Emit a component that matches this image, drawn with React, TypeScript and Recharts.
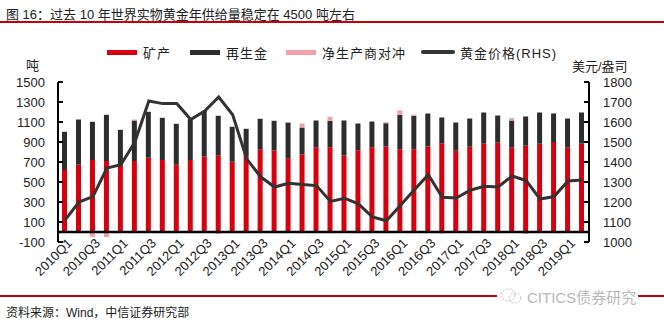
import {
    ComposedChart,
    Bar,
    Line,
    XAxis,
    YAxis,
    ReferenceLine
} from 'recharts'

const quarters = [
    '2010Q1', '2010Q2', '2010Q3', '2010Q4',
    '2011Q1', '2011Q2', '2011Q3', '2011Q4',
    '2012Q1', '2012Q2', '2012Q3', '2012Q4',
    '2013Q1', '2013Q2', '2013Q3', '2013Q4',
    '2014Q1', '2014Q2', '2014Q3', '2014Q4',
    '2015Q1', '2015Q2', '2015Q3', '2015Q4',
    '2016Q1', '2016Q2', '2016Q3', '2016Q4',
    '2017Q1', '2017Q2', '2017Q3', '2017Q4',
    '2018Q1', '2018Q2', '2018Q3', '2018Q4',
    '2019Q1', '2019Q2'
]

// 矿产 (吨)
const mine = [
    620, 673, 720, 710, 663, 710, 743, 720, 673, 720, 757, 763,
    703, 753, 828, 816, 738, 776, 848, 848, 765, 818, 848, 856,
    828, 828, 856, 888, 813, 853, 883, 893, 843, 863, 883, 900,
    843, 883
]

// 再生金 (吨)
const recycled = [
    382, 452, 382, 462, 359, 405, 459, 422, 409, 408, 455, 399,
    349, 279, 304, 296, 357, 269, 267, 264, 350, 267, 257, 232,
    344, 334, 329, 257, 282, 282, 312, 272, 272, 292, 312, 285,
    292, 312
]

// 净生产商对冲 (吨)
const hedging = [
    0, 0, -50, -50, 0, 10, 0, 0, 0, 0, 0, -20,
    0, 0, 0, 0, 5, 40, 0, 40, 0, 0, 0, 10,
    45, 12, 0, -15, 0, 0, 0, 0, 25, -20, 0, 0,
    0, 0
]

// 黄金价格 (美元/盎司, RHS)
const goldPrice = [
    1109, 1200, 1227, 1370, 1386, 1500, 1705, 1692, 1693, 1612, 1655, 1725,
    1636, 1416, 1326, 1275, 1294, 1288, 1282, 1203, 1219, 1191, 1125, 1106,
    1183, 1261, 1336, 1224, 1220, 1259, 1279, 1275, 1330, 1307, 1215, 1227,
    1305, 1310
]

const leftTicks = [-100, 100, 300, 500, 700, 900, 1100, 1300, 1500]
const rightTicks = [1000, 1100, 1200, 1300, 1400, 1500, 1600, 1700, 1800]

const RED = '#d7000f'
const DARK = '#2d2d2d'
const PINK = '#f0a1ab'
const LINE = '#333333'
const FONT = 'Arial, "Liberation Sans", "Noto Sans CJK SC", sans-serif'

const data = quarters.map((q, i) => ({
    q,
    mine: mine[i],
    recycled: recycled[i],
    hedging: hedging[i],
    gold: goldPrice[i]
}))

function LeftTick({ x, y, payload }: any) {
    return (
        <g>
            <line x1={x} x2={x + 5} y1={y} y2={y} stroke="#000" strokeWidth={2} />
            <text x={x - 13} y={y} dy={5} textAnchor="end" fontSize={13} fill="#222" fontFamily={FONT}>
                {payload.value}
            </text>
        </g>
    )
}

function RightTick({ x, y, payload }: any) {
    return (
        <g>
            <line x1={x - 5} x2={x} y1={y} y2={y} stroke="#000" strokeWidth={2} />
            <text x={x + 14} y={y} dy={5} textAnchor="start" fontSize={13} fill="#222" fontFamily={FONT}>
                {payload.value}
            </text>
        </g>
    )
}

function QuarterTick({ x, y, payload }: any) {
    const ax = x + 8
    const ay = y + 2
    return (
        <text
            x={ax}
            y={ay}
            textAnchor="end"
            fontSize={13}
            fill="#222"
            fontFamily={FONT}
            transform={`rotate(-45, ${ax}, ${ay})`}
        >
            {payload.value}
        </text>
    )
}

function LegendItem({ left, color, label, line }: { left: number; color: string; label: string; line?: boolean }) {
    return (
        <div style={{ position: 'absolute', left, top: 43, height: 18, display: 'flex', alignItems: 'center' }}>
            <div
                style={{
                    width: line ? 34 : 30,
                    height: line ? 4 : 5,
                    background: color,
                    borderRadius: line ? 2 : 0,
                    marginRight: line ? 5 : 6
                }}
            />
            <span style={{ fontSize: 13, color: '#222', letterSpacing: 1 }}>{label}</span>
        </div>
    )
}

export default function App() {
    return (
        <div
            style={{
                position: 'absolute',
                left: 0,
                top: 0,
                width: 664,
                height: 324,
                background: '#fff',
                fontFamily: FONT,
                overflow: 'hidden'
            }}
        >
            <div style={{ position: 'absolute', left: 6, top: 4, fontSize: 13, color: '#222', whiteSpace: 'nowrap' }}>
                图 16：过去 10 年世界实物黄金年供给量稳定在 4500 吨左右
            </div>
            <div style={{ position: 'absolute', left: 0, top: 21, width: 664, height: 2, background: '#c8000a' }} />

            <LegendItem left={107} color={RED} label="矿产" />
            <LegendItem left={190} color={DARK} label="再生金" />
            <LegendItem left={286} color={PINK} label="净生产商对冲" />
            <LegendItem left={421} color={LINE} label="黄金价格(RHS)" line />

            <div style={{ position: 'absolute', left: 26, top: 55, fontSize: 13, color: '#222' }}>吨</div>
            <div style={{ position: 'absolute', left: 572, top: 56, fontSize: 13, color: '#222' }}>美元/盎司</div>

            <div style={{ position: 'absolute', left: 0, top: 0 }}>
                <ComposedChart
                    width={664}
                    height={324}
                    data={data}
                    stackOffset="sign"
                    margin={{ top: 82, right: 0, bottom: 0, left: 0 }}
                >
                    <XAxis
                        dataKey="q"
                        xAxisId={0}
                        interval={1}
                        height={82}
                        axisLine={false}
                        tickLine={false}
                        tickSize={0}
                        tickMargin={0}
                        tick={(p: any) => <QuarterTick {...p} />}
                    />
                    <YAxis
                        yAxisId="left"
                        orientation="left"
                        width={58}
                        domain={[-100, 1500]}
                        ticks={leftTicks}
                        interval={0}
                        allowDataOverflow
                        axisLine={{ stroke: '#000', strokeWidth: 2 }}
                        tickLine={false}
                        tickSize={0}
                        tickMargin={0}
                        tick={(p: any) => <LeftTick {...p} />}
                    />
                    <YAxis
                        yAxisId="right"
                        orientation="right"
                        width={75}
                        domain={[1000, 1800]}
                        ticks={rightTicks}
                        interval={0}
                        allowDataOverflow
                        axisLine={{ stroke: '#000', strokeWidth: 2 }}
                        tickLine={false}
                        tickSize={0}
                        tickMargin={0}
                        tick={(p: any) => <RightTick {...p} />}
                    />
                    <Bar yAxisId="left" dataKey="mine" stackId="s" fill={RED} barSize={5} isAnimationActive={false} />
                    <Bar yAxisId="left" dataKey="recycled" stackId="s" fill={DARK} barSize={5} isAnimationActive={false} />
                    <Bar yAxisId="left" dataKey="hedging" stackId="s" fill={PINK} barSize={5} isAnimationActive={false} />
                    <ReferenceLine yAxisId="left" y={0} stroke="#000" strokeWidth={2.5} />
                    <Line
                        yAxisId="right"
                        dataKey="gold"
                        type="linear"
                        stroke={LINE}
                        strokeWidth={3}
                        dot={false}
                        isAnimationActive={false}
                    />
                </ComposedChart>
            </div>

            <div style={{ position: 'absolute', left: 0, top: 295, width: 664, height: 2, background: '#c8000a' }} />
            <div
                style={{
                    position: 'absolute',
                    left: 497,
                    top: 287,
                    height: 18,
                    padding: '0 2px',
                    background: '#fff',
                    display: 'flex',
                    alignItems: 'center',
                    color: '#b8b8b8',
                    fontSize: 15,
                    whiteSpace: 'nowrap'
                }}
            >
                <svg width={24} height={18} style={{ marginRight: 4 }}>
                    <ellipse cx={9} cy={8} rx={7} ry={6} fill="none" stroke="#c0c0c0" strokeWidth={1} strokeDasharray="2 1.5" />
                    <ellipse cx={16} cy={11} rx={6} ry={5} fill="none" stroke="#c0c0c0" strokeWidth={1} strokeDasharray="2 1.5" />
                </svg>
                CITICS债券研究
            </div>
            <div style={{ position: 'absolute', left: 6, top: 303, fontSize: 12, color: '#222', whiteSpace: 'nowrap' }}>
                资料来源：Wind，中信证券研究部
            </div>
        </div>
    )
}
